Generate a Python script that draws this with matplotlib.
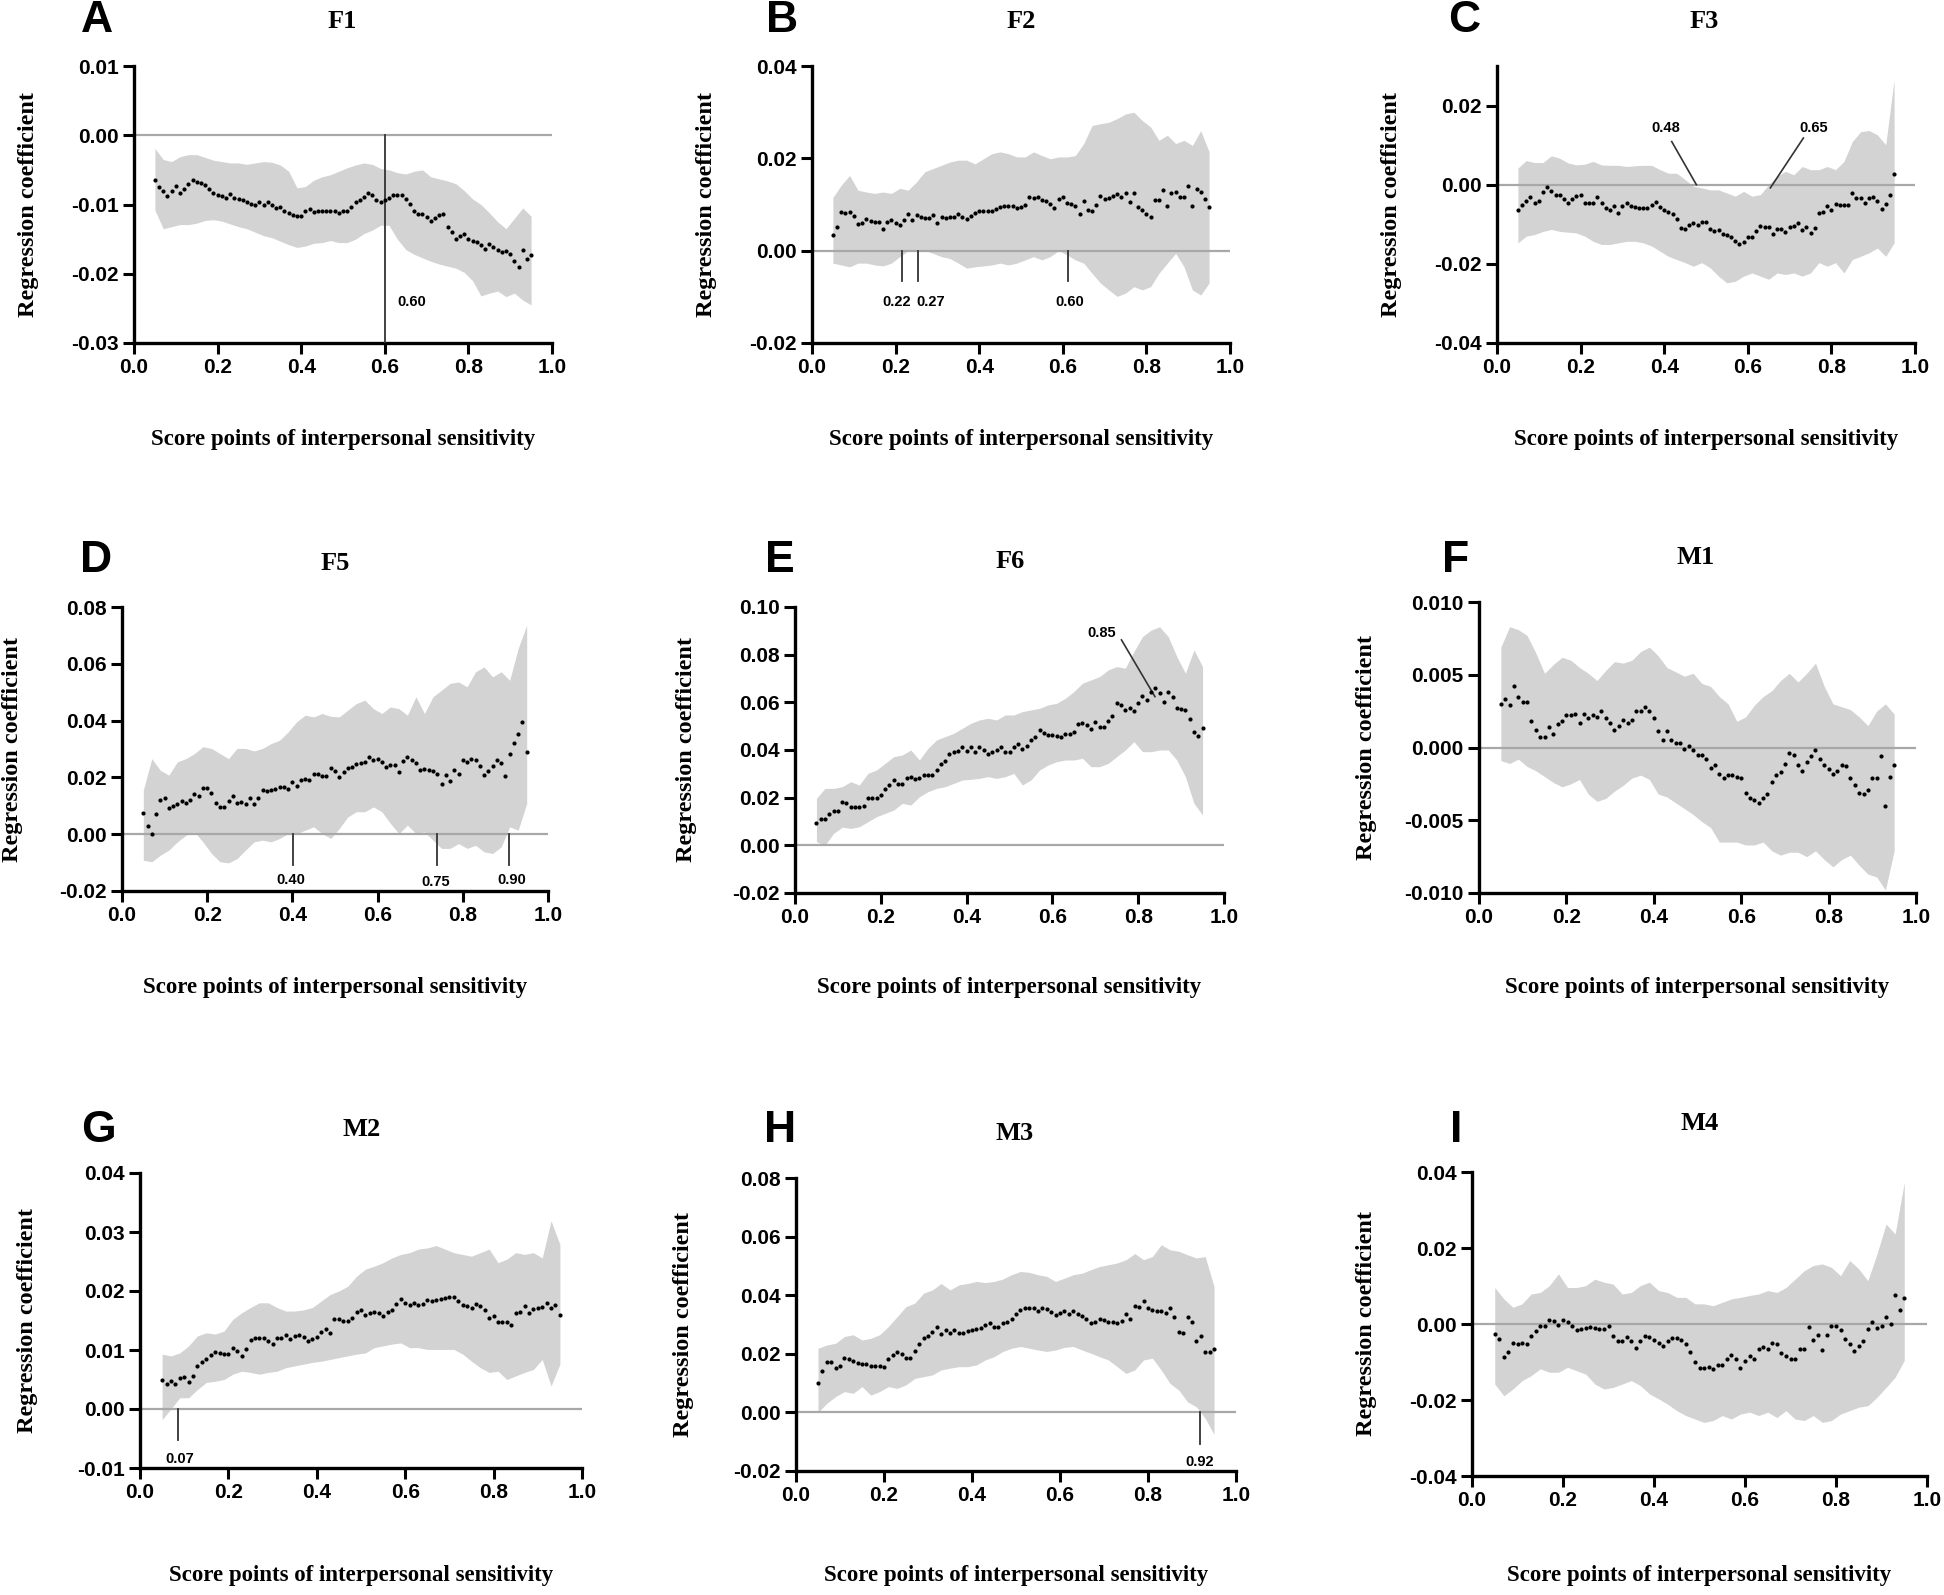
import numpy as np
import matplotlib
matplotlib.use("Agg")
import matplotlib.pyplot as plt
from matplotlib.ticker import FormatStrFormatter

plt.rcParams["axes.unicode_minus"] = False

# ---------------- data ----------------
score_points = np.round(np.arange(0.05, 0.951, 0.01), 2)      # 91 quantiles
band_points = np.round(np.arange(0.05, 0.951, 0.02), 2)       # 46 CI points

F1_coef = [-0.0065,-0.0075,-0.0081,-0.0088,-0.0080,-0.0074,-0.0084,-0.0078,-0.0070,-0.0065,
           -0.0067,-0.0069,-0.0072,-0.0078,-0.0083,-0.0087,-0.0088,-0.0090,-0.0085,-0.0091,
           -0.0092,-0.0094,-0.0096,-0.0099,-0.0101,-0.0097,-0.0100,-0.0096,-0.0100,-0.0105,
           -0.0104,-0.0109,-0.0112,-0.0115,-0.0117,-0.0116,-0.0109,-0.0107,-0.0111,-0.0110,
           -0.0109,-0.0109,-0.0110,-0.0110,-0.0112,-0.0109,-0.0109,-0.0104,-0.0097,-0.0094,
           -0.0089,-0.0084,-0.0087,-0.0094,-0.0097,-0.0093,-0.0090,-0.0087,-0.0086,-0.0087,
           -0.0092,-0.0099,-0.0110,-0.0114,-0.0113,-0.0118,-0.0124,-0.0120,-0.0115,-0.0113,
           -0.0132,-0.0139,-0.0150,-0.0146,-0.0142,-0.0150,-0.0152,-0.0154,-0.0158,-0.0164,
           -0.0157,-0.0162,-0.0166,-0.0169,-0.0167,-0.0171,-0.0182,-0.0190,-0.0166,-0.0178,
           -0.0173]
F1_upper = [-0.0019,-0.0035,-0.0038,-0.0031,-0.0028,-0.0028,-0.0032,-0.0036,-0.0038,-0.0040,
            -0.0040,-0.0042,-0.0040,-0.0038,-0.0039,-0.0043,-0.0052,-0.0076,-0.0074,-0.0065,
            -0.0060,-0.0057,-0.0052,-0.0047,-0.0043,-0.0040,-0.0042,-0.0048,-0.0050,-0.0054,
            -0.0056,-0.0052,-0.0050,-0.0060,-0.0063,-0.0066,-0.0070,-0.0080,-0.0092,-0.0100,
            -0.0112,-0.0125,-0.0135,-0.0120,-0.0105,-0.0117]
F1_lower = [-0.0108,-0.0135,-0.0132,-0.0129,-0.0129,-0.0127,-0.0123,-0.0122,-0.0124,-0.0128,
            -0.0132,-0.0135,-0.0140,-0.0145,-0.0148,-0.0153,-0.0158,-0.0162,-0.0160,-0.0156,
            -0.0155,-0.0152,-0.0155,-0.0155,-0.0150,-0.0142,-0.0137,-0.0130,-0.0130,-0.0150,
            -0.0165,-0.0172,-0.0177,-0.0182,-0.0186,-0.0189,-0.0192,-0.0198,-0.0210,-0.0232,
            -0.0228,-0.0225,-0.0233,-0.0228,-0.0238,-0.0245]

F2_coef = [0.0033,0.0052,0.0084,0.0081,0.0084,0.0076,0.0058,0.0060,0.0068,0.0065,
           0.0062,0.0063,0.0047,0.0063,0.0067,0.0061,0.0055,0.0067,0.0079,0.0067,
           0.0077,0.0074,0.0071,0.0071,0.0077,0.0059,0.0072,0.0070,0.0072,0.0074,
           0.0080,0.0074,0.0069,0.0075,0.0081,0.0085,0.0087,0.0087,0.0087,0.0090,
           0.0095,0.0096,0.0097,0.0096,0.0093,0.0095,0.0099,0.0116,0.0113,0.0117,
           0.0109,0.0108,0.0101,0.0092,0.0112,0.0117,0.0103,0.0102,0.0097,0.0080,
           0.0108,0.0088,0.0087,0.0100,0.0118,0.0112,0.0115,0.0119,0.0123,0.0117,
           0.0125,0.0105,0.0124,0.0095,0.0088,0.0080,0.0073,0.0109,0.0110,0.0132,
           0.0096,0.0124,0.0126,0.0116,0.0117,0.0139,0.0097,0.0133,0.0128,0.0112,
           0.0094]
F2_upper = [0.0115,0.0142,0.0163,0.0131,0.0127,0.0124,0.0127,0.0124,0.0135,0.0131,
            0.0149,0.0171,0.0178,0.0185,0.0192,0.0196,0.0196,0.0188,0.0199,0.0210,
            0.0214,0.0210,0.0203,0.0203,0.0214,0.0206,0.0199,0.0203,0.0203,0.0206,
            0.0232,0.0271,0.0275,0.0278,0.0286,0.0296,0.0300,0.0282,0.0268,0.0239,
            0.0250,0.0232,0.0239,0.0228,0.0260,0.0214]
F2_lower = [-0.0027,-0.0031,-0.0035,-0.0027,-0.0027,-0.0031,-0.0033,-0.0027,-0.0013,0.0000,
            0.0003,0.0001,-0.0006,-0.0013,-0.0017,-0.0027,-0.0038,-0.0035,-0.0033,-0.0031,
            -0.0027,-0.0031,-0.0027,-0.0020,-0.0013,-0.0020,-0.0013,0.0000,-0.0009,-0.0020,
            -0.0027,-0.0049,-0.0070,-0.0085,-0.0099,-0.0092,-0.0078,-0.0085,-0.0078,-0.0049,
            -0.0027,-0.0006,-0.0035,-0.0085,-0.0096,-0.0070]

F3_coef = [-0.0063,-0.0050,-0.0040,-0.0031,-0.0045,-0.0042,-0.0018,-0.0007,-0.0017,-0.0025,
           -0.0026,-0.0037,-0.0047,-0.0035,-0.0028,-0.0026,-0.0045,-0.0045,-0.0045,-0.0031,
           -0.0046,-0.0060,-0.0064,-0.0055,-0.0071,-0.0053,-0.0047,-0.0055,-0.0057,-0.0060,
           -0.0060,-0.0060,-0.0052,-0.0044,-0.0057,-0.0065,-0.0070,-0.0075,-0.0087,-0.0110,
           -0.0113,-0.0103,-0.0097,-0.0102,-0.0095,-0.0093,-0.0112,-0.0116,-0.0114,-0.0125,
           -0.0128,-0.0133,-0.0141,-0.0150,-0.0145,-0.0133,-0.0133,-0.0117,-0.0104,-0.0106,
           -0.0108,-0.0125,-0.0113,-0.0113,-0.0119,-0.0108,-0.0105,-0.0098,-0.0115,-0.0106,
           -0.0122,-0.0110,-0.0071,-0.0069,-0.0055,-0.0063,-0.0048,-0.0050,-0.0050,-0.0052,
           -0.0022,-0.0034,-0.0034,-0.0045,-0.0033,-0.0030,-0.0042,-0.0061,-0.0049,-0.0027,
           0.0027]
F3_upper = [0.0042,0.0061,0.0056,0.0056,0.0073,0.0067,0.0055,0.0050,0.0052,0.0059,
            0.0050,0.0049,0.0049,0.0046,0.0048,0.0049,0.0049,0.0038,0.0029,0.0029,
            0.0013,-0.0004,-0.0008,-0.0013,-0.0013,-0.0021,-0.0029,-0.0017,-0.0029,-0.0025,
            0.0000,0.0021,0.0034,0.0025,0.0046,0.0038,0.0038,0.0046,0.0038,0.0059,
            0.0109,0.0134,0.0137,0.0126,0.0101,0.0265]
F3_lower = [-0.0147,-0.0130,-0.0126,-0.0118,-0.0113,-0.0118,-0.0120,-0.0122,-0.0130,-0.0143,
            -0.0151,-0.0151,-0.0147,-0.0143,-0.0143,-0.0147,-0.0155,-0.0168,-0.0181,-0.0189,
            -0.0197,-0.0206,-0.0197,-0.0210,-0.0231,-0.0248,-0.0244,-0.0231,-0.0223,-0.0231,
            -0.0239,-0.0223,-0.0227,-0.0223,-0.0231,-0.0223,-0.0197,-0.0206,-0.0197,-0.0223,
            -0.0189,-0.0181,-0.0172,-0.0160,-0.0181,-0.0147]

F5_coef = [0.0073,0.0030,0.0002,0.0070,0.0122,0.0126,0.0094,0.0100,0.0108,0.0117,
           0.0110,0.0120,0.0140,0.0136,0.0162,0.0162,0.0146,0.0110,0.0095,0.0095,
           0.0118,0.0134,0.0111,0.0113,0.0108,0.0127,0.0105,0.0129,0.0157,0.0151,
           0.0155,0.0159,0.0165,0.0165,0.0159,0.0185,0.0170,0.0192,0.0194,0.0192,
           0.0213,0.0211,0.0204,0.0204,0.0232,0.0222,0.0203,0.0220,0.0234,0.0237,
           0.0247,0.0250,0.0254,0.0273,0.0260,0.0264,0.0254,0.0235,0.0242,0.0242,
           0.0218,0.0256,0.0271,0.0262,0.0250,0.0227,0.0228,0.0225,0.0224,0.0211,
           0.0177,0.0209,0.0186,0.0227,0.0211,0.0260,0.0253,0.0264,0.0262,0.0240,
           0.0208,0.0222,0.0240,0.0262,0.0251,0.0205,0.0282,0.0322,0.0354,0.0395,
           0.0289]
F5_upper = [0.0155,0.0266,0.0225,0.0208,0.0255,0.0266,0.0284,0.0308,0.0302,0.0284,
            0.0266,0.0302,0.0302,0.0293,0.0302,0.0319,0.0331,0.0360,0.0396,0.0419,
            0.0413,0.0425,0.0415,0.0413,0.0437,0.0460,0.0472,0.0442,0.0425,0.0448,
            0.0442,0.0419,0.0484,0.0425,0.0484,0.0507,0.0531,0.0536,0.0519,0.0572,
            0.0589,0.0554,0.0572,0.0542,0.0654,0.0736]
F5_lower = [-0.0092,-0.0097,-0.0074,-0.0056,-0.0027,-0.0004,0.0008,-0.0027,-0.0068,-0.0097,
            -0.0101,-0.0086,-0.0056,-0.0027,-0.0021,-0.0027,-0.0015,0.0002,0.0002,0.0014,
            0.0026,0.0002,-0.0015,0.0020,0.0061,0.0079,0.0079,0.0096,0.0079,0.0038,
            0.0002,0.0032,0.0002,0.0008,-0.0021,-0.0050,-0.0050,-0.0033,-0.0050,-0.0039,
            -0.0062,-0.0068,-0.0045,0.0026,0.0014,0.0108]

F6_coef = [0.0095,0.0110,0.0112,0.0130,0.0143,0.0143,0.0183,0.0178,0.0161,0.0161,
           0.0161,0.0164,0.0197,0.0199,0.0200,0.0213,0.0235,0.0255,0.0273,0.0257,
           0.0256,0.0281,0.0285,0.0280,0.0282,0.0294,0.0297,0.0297,0.0315,0.0340,
           0.0355,0.0383,0.0390,0.0395,0.0412,0.0397,0.0413,0.0392,0.0413,0.0400,
           0.0384,0.0390,0.0400,0.0413,0.0392,0.0390,0.0413,0.0424,0.0406,0.0417,
           0.0440,0.0455,0.0482,0.0472,0.0462,0.0462,0.0460,0.0455,0.0466,0.0466,
           0.0476,0.0510,0.0512,0.0504,0.0490,0.0518,0.0497,0.0497,0.0520,0.0544,
           0.0597,0.0590,0.0566,0.0577,0.0565,0.0597,0.0627,0.0610,0.0645,0.0661,
           0.0640,0.0600,0.0644,0.0622,0.0578,0.0572,0.0566,0.0532,0.0474,0.0460,
           0.0493]
F6_upper = [0.0197,0.0239,0.0239,0.0246,0.0267,0.0253,0.0302,0.0316,0.0344,0.0372,
            0.0379,0.0400,0.0358,0.0407,0.0442,0.0456,0.0470,0.0491,0.0512,0.0526,
            0.0533,0.0526,0.0547,0.0547,0.0561,0.0568,0.0575,0.0589,0.0596,0.0617,
            0.0645,0.0680,0.0694,0.0708,0.0736,0.0750,0.0743,0.0813,0.0876,0.0903,
            0.0917,0.0876,0.0792,0.0722,0.0820,0.0750]
F6_lower = [0.0015,0.0001,0.0050,0.0076,0.0071,0.0078,0.0099,0.0120,0.0134,0.0148,
            0.0176,0.0169,0.0204,0.0225,0.0239,0.0246,0.0260,0.0274,0.0277,0.0281,
            0.0288,0.0281,0.0288,0.0302,0.0253,0.0274,0.0316,0.0337,0.0351,0.0358,
            0.0358,0.0365,0.0330,0.0330,0.0344,0.0372,0.0400,0.0435,0.0393,0.0393,
            0.0400,0.0400,0.0358,0.0288,0.0176,0.0127]

M1_coef = [0.0030,0.0033,0.0029,0.0042,0.0035,0.0031,0.0031,0.0018,0.0012,0.0007,
           0.0007,0.0014,0.0009,0.0016,0.0018,0.0022,0.0022,0.0023,0.0017,0.0023,
           0.0020,0.0022,0.0021,0.0025,0.0020,0.0017,0.0012,0.0015,0.0019,0.0017,
           0.0019,0.0025,0.0025,0.0028,0.0025,0.0020,0.0011,0.0005,0.0011,0.0005,
           0.0003,0.0003,-0.0001,0.0001,-0.0002,-0.0005,-0.0005,-0.0008,-0.0014,-0.0012,
           -0.0018,-0.0021,-0.0019,-0.0019,-0.0020,-0.0021,-0.0031,-0.0035,-0.0036,-0.0038,
           -0.0035,-0.0032,-0.0024,-0.0019,-0.0017,-0.0011,-0.0004,-0.0005,-0.0012,-0.0016,
           -0.0010,-0.0006,-0.0002,-0.0008,-0.0012,-0.0015,-0.0018,-0.0016,-0.0012,-0.0013,
           -0.0021,-0.0026,-0.0031,-0.0032,-0.0029,-0.0021,-0.0021,-0.0006,-0.0040,-0.0020,
           -0.0012]
M1_upper = [0.0069,0.0083,0.0081,0.0077,0.0065,0.0051,0.0057,0.0062,0.0060,0.0055,
            0.0051,0.0046,0.0053,0.0059,0.0058,0.0060,0.0066,0.0069,0.0063,0.0055,
            0.0052,0.0049,0.0051,0.0044,0.0042,0.0035,0.0030,0.0018,0.0021,0.0029,
            0.0035,0.0039,0.0046,0.0051,0.0045,0.0051,0.0058,0.0042,0.0030,0.0028,
            0.0026,0.0021,0.0015,0.0025,0.0030,0.0023]
M1_lower = [-0.0009,-0.0011,-0.0008,-0.0013,-0.0016,-0.0020,-0.0024,-0.0027,-0.0025,-0.0022,
            -0.0032,-0.0037,-0.0035,-0.0030,-0.0026,-0.0021,-0.0019,-0.0022,-0.0032,-0.0034,
            -0.0038,-0.0042,-0.0046,-0.0051,-0.0055,-0.0065,-0.0065,-0.0065,-0.0067,-0.0067,
            -0.0065,-0.0071,-0.0074,-0.0072,-0.0072,-0.0075,-0.0071,-0.0077,-0.0082,-0.0077,
            -0.0074,-0.0081,-0.0087,-0.0089,-0.0098,-0.0071]

M2_coef = [0.0050,0.0043,0.0048,0.0043,0.0053,0.0055,0.0045,0.0056,0.0073,0.0080,
           0.0085,0.0092,0.0097,0.0095,0.0093,0.0093,0.0103,0.0098,0.0090,0.0102,
           0.0117,0.0120,0.0120,0.0120,0.0115,0.0110,0.0120,0.0121,0.0125,0.0118,
           0.0123,0.0125,0.0122,0.0115,0.0119,0.0122,0.0130,0.0135,0.0129,0.0152,
           0.0152,0.0150,0.0150,0.0155,0.0165,0.0168,0.0160,0.0163,0.0165,0.0162,
           0.0157,0.0165,0.0168,0.0178,0.0187,0.0180,0.0177,0.0180,0.0176,0.0178,
           0.0185,0.0183,0.0185,0.0187,0.0188,0.0190,0.0190,0.0183,0.0177,0.0175,
           0.0172,0.0178,0.0175,0.0168,0.0155,0.0157,0.0147,0.0148,0.0147,0.0143,
           0.0162,0.0165,0.0175,0.0163,0.0170,0.0172,0.0173,0.0180,0.0172,0.0177,
           0.0160]
M2_upper = [0.0093,0.0090,0.0095,0.0107,0.0124,0.0129,0.0127,0.0132,0.0152,0.0163,
            0.0172,0.0180,0.0180,0.0172,0.0166,0.0166,0.0168,0.0172,0.0183,0.0194,
            0.0200,0.0208,0.0225,0.0237,0.0242,0.0248,0.0256,0.0262,0.0265,0.0271,
            0.0273,0.0277,0.0271,0.0265,0.0262,0.0259,0.0265,0.0271,0.0248,0.0254,
            0.0265,0.0262,0.0265,0.0256,0.0319,0.0279]
M2_lower = [-0.0018,0.0000,0.0019,0.0019,0.0033,0.0045,0.0047,0.0050,0.0059,0.0064,
            0.0062,0.0059,0.0062,0.0064,0.0070,0.0073,0.0076,0.0079,0.0081,0.0084,
            0.0087,0.0090,0.0093,0.0095,0.0104,0.0107,0.0110,0.0112,0.0104,0.0104,
            0.0101,0.0101,0.0101,0.0101,0.0093,0.0081,0.0070,0.0062,0.0064,0.0050,
            0.0056,0.0062,0.0067,0.0084,0.0039,0.0076]

M3_coef = [0.0101,0.0142,0.0171,0.0173,0.0150,0.0160,0.0185,0.0183,0.0175,0.0168,
           0.0165,0.0165,0.0160,0.0157,0.0158,0.0156,0.0182,0.0197,0.0207,0.0198,
           0.0184,0.0185,0.0210,0.0232,0.0255,0.0260,0.0275,0.0290,0.0267,0.0280,
           0.0270,0.0280,0.0272,0.0272,0.0278,0.0282,0.0285,0.0288,0.0297,0.0305,
           0.0290,0.0290,0.0305,0.0310,0.0318,0.0337,0.0350,0.0358,0.0355,0.0358,
           0.0345,0.0358,0.0352,0.0342,0.0333,0.0340,0.0347,0.0337,0.0345,0.0335,
           0.0328,0.0320,0.0305,0.0308,0.0320,0.0315,0.0310,0.0308,0.0305,0.0313,
           0.0335,0.0318,0.0362,0.0360,0.0380,0.0355,0.0350,0.0345,0.0347,0.0338,
           0.0358,0.0325,0.0275,0.0270,0.0325,0.0310,0.0242,0.0262,0.0205,0.0207,
           0.0218]
M3_upper = [0.0219,0.0230,0.0236,0.0259,0.0265,0.0247,0.0253,0.0265,0.0293,0.0327,
            0.0361,0.0373,0.0407,0.0418,0.0440,0.0418,0.0435,0.0440,0.0447,0.0443,
            0.0447,0.0455,0.0470,0.0481,0.0478,0.0470,0.0464,0.0447,0.0458,0.0470,
            0.0475,0.0487,0.0498,0.0504,0.0510,0.0521,0.0542,0.0521,0.0532,0.0572,
            0.0555,0.0550,0.0538,0.0527,0.0532,0.0430]
M3_lower = [0.0000,0.0031,0.0054,0.0071,0.0065,0.0088,0.0059,0.0071,0.0088,0.0082,
            0.0094,0.0116,0.0122,0.0128,0.0145,0.0151,0.0156,0.0156,0.0162,0.0179,
            0.0190,0.0208,0.0219,0.0225,0.0219,0.0213,0.0208,0.0213,0.0222,0.0225,
            0.0213,0.0202,0.0190,0.0179,0.0156,0.0133,0.0145,0.0179,0.0185,0.0145,
            0.0099,0.0076,0.0036,0.0019,-0.0020,-0.0075]

M4_coef = [-0.0025,-0.0040,-0.0087,-0.0073,-0.0049,-0.0052,-0.0049,-0.0052,-0.0032,-0.0018,
           -0.0005,-0.0005,0.0011,0.0009,-0.0002,0.0011,0.0005,-0.0005,-0.0015,-0.0012,
           -0.0010,-0.0007,-0.0010,-0.0012,-0.0012,-0.0005,-0.0032,-0.0045,-0.0045,-0.0035,
           -0.0045,-0.0062,-0.0045,-0.0032,-0.0035,-0.0043,-0.0049,-0.0057,-0.0045,-0.0038,
           -0.0038,-0.0042,-0.0052,-0.0073,-0.0099,-0.0115,-0.0116,-0.0112,-0.0119,-0.0108,
           -0.0109,-0.0093,-0.0082,-0.0092,-0.0115,-0.0097,-0.0083,-0.0092,-0.0065,-0.0060,
           -0.0065,-0.0049,-0.0052,-0.0075,-0.0083,-0.0093,-0.0093,-0.0065,-0.0065,-0.0008,
           -0.0042,-0.0029,-0.0069,-0.0029,-0.0005,-0.0005,-0.0015,-0.0040,-0.0052,-0.0070,
           -0.0057,-0.0045,-0.0014,0.0006,-0.0010,-0.0005,0.0019,0.0001,0.0077,0.0037,
           0.0068]
M4_upper = [0.0096,0.0066,0.0044,0.0053,0.0079,0.0083,0.0101,0.0132,0.0096,0.0096,
            0.0101,0.0118,0.0110,0.0105,0.0079,0.0083,0.0101,0.0110,0.0088,0.0083,
            0.0070,0.0070,0.0053,0.0053,0.0048,0.0057,0.0066,0.0070,0.0075,0.0079,
            0.0088,0.0083,0.0096,0.0118,0.0140,0.0154,0.0158,0.0149,0.0127,0.0167,
            0.0145,0.0114,0.0184,0.0263,0.0237,0.0373]
M4_lower = [-0.0158,-0.0189,-0.0171,-0.0149,-0.0136,-0.0118,-0.0127,-0.0127,-0.0114,-0.0123,
            -0.0132,-0.0158,-0.0171,-0.0167,-0.0158,-0.0149,-0.0162,-0.0184,-0.0197,-0.0211,
            -0.0228,-0.0241,-0.0250,-0.0259,-0.0254,-0.0241,-0.0250,-0.0237,-0.0232,-0.0241,
            -0.0232,-0.0246,-0.0228,-0.0250,-0.0254,-0.0241,-0.0259,-0.0254,-0.0237,-0.0228,
            -0.0219,-0.0215,-0.0193,-0.0167,-0.0140,-0.0096]

panel_letters = ["A", "B", "C", "D", "E", "F", "G", "H", "I"]
panel_titles = ["F1", "F2", "F3", "F5", "F6", "M1", "M2", "M3", "M4"]
coefs = [F1_coef, F2_coef, F3_coef, F5_coef, F6_coef, M1_coef, M2_coef, M3_coef, M4_coef]
uppers = [F1_upper, F2_upper, F3_upper, F5_upper, F6_upper, M1_upper, M2_upper, M3_upper, M4_upper]
lowers = [F1_lower, F2_lower, F3_lower, F5_lower, F6_lower, M1_lower, M2_lower, M3_lower, M4_lower]
y_ticks = [
    [-0.03, -0.02, -0.01, 0.00, 0.01],
    [-0.02, 0.00, 0.02, 0.04],
    [-0.04, -0.02, 0.00, 0.02],
    [-0.02, 0.00, 0.02, 0.04, 0.06, 0.08],
    [-0.02, 0.00, 0.02, 0.04, 0.06, 0.08, 0.10],
    [-0.010, -0.005, 0.000, 0.005, 0.010],
    [-0.01, 0.00, 0.01, 0.02, 0.03, 0.04],
    [-0.02, 0.00, 0.02, 0.04, 0.06, 0.08],
    [-0.04, -0.02, 0.00, 0.02, 0.04],
]
y_limits = [(-0.03, 0.01), (-0.02, 0.04), (-0.04, 0.03), (-0.02, 0.08), (-0.02, 0.10),
            (-0.010, 0.010), (-0.01, 0.04), (-0.02, 0.08), (-0.04, 0.04)]
y_decimals = [2, 2, 2, 2, 2, 3, 2, 2, 2]
x_ticks = [0.0, 0.2, 0.4, 0.6, 0.8, 1.0]
x_label = "Score points of interpersonal sensitivity"
y_label = "Regression coefficient"

# annotation marks: 'v' = vertical drop line, 'd' = diagonal leader line
annotations = [
    [("v", 0.60, -0.03, "0.60", 0.664, -0.0241)],
    [("v", 0.216, -0.0065, "0.22", 0.203, -0.0112),
     ("v", 0.254, -0.0065, "0.27", 0.285, -0.0112),
     ("v", 0.612, -0.0065, "0.60", 0.617, -0.0112)],
    [("d", 0.477, 0.0, 0.418, 0.0109, "0.48", 0.403, 0.0143),
     ("d", 0.654, -0.0008, 0.733, 0.0118, "0.65", 0.757, 0.0143)],
    [("v", 0.402, -0.0109, "0.40", 0.397, -0.0162),
     ("v", 0.739, -0.0109, "0.75", 0.736, -0.0168),
     ("v", 0.909, -0.0109, "0.90", 0.916, -0.0162)],
    [("d", 0.839, 0.0624, 0.761, 0.0862, "0.85", 0.714, 0.0890)],
    [],
    [("v", 0.086, -0.0053, "0.07", 0.091, -0.0085)],
    [("v", 0.919, -0.0108, "0.92", 0.917, -0.0169)],
    [],
]

# ---------------- layout (pixels in 1944x1595) ----------------
W, H = 1944, 1595
axes_px = [  # left, top, right, bottom
    (134, 66, 552, 343), (812, 66, 1230, 343), (1497, 66, 1915, 343),
    (122, 607, 548, 891), (795, 607, 1224, 893), (1479, 602, 1916, 893),
    (140, 1173, 582, 1468), (796, 1178, 1236, 1471), (1472, 1172, 1927, 1476),
]
letter_px = [(97, 20), (782, 20), (1464, 20), (96, 561), (780, 560), (1456, 560),
             (98, 1131), (780, 1130), (1456, 1130)]
title_px = [(342, 22), (1021, 21), (1704, 22), (335, 563), (1010, 562), (1696, 557),
            (362, 1130), (1015, 1133), (1700, 1123)]
xlabel_y_px = [440, 440, 440, 988, 988, 988, 1575, 1575, 1575]
ylabel_off_px = [106, 106, 106, 110, 109, 113, 113, 113, 106]

SERIF = ["Liberation Serif", "DejaVu Serif"]
SANS = ["Liberation Sans", "DejaVu Sans"]
BAND = "#d3d3d3"

fig = plt.figure(figsize=(W / 100, H / 100), dpi=100)

for i in range(9):
    l, t, r, b = axes_px[i]
    ax = fig.add_axes([l / W, 1 - b / H, (r - l) / W, (b - t) / H])
    ax.fill_between(band_points, lowers[i], uppers[i], color=BAND, lw=0, zorder=1)
    ax.axhline(0, color="#a8a8a8", lw=1.6, zorder=2)
    ax.plot(score_points, coefs[i], "o", color="black", ms=3.0, mew=0, zorder=4)

    for a in annotations[i]:
        if a[0] == "v":
            _, xv, yb, lab, tx, ty = a
            ax.plot([xv, xv], [0, yb], color="#333333", lw=1.3, zorder=3)
        else:
            _, x0, y0, x1, y1, lab, tx, ty = a
            ax.plot([x0, x1], [y0, y1], color="#333333", lw=1.2, zorder=3)
        ax.text(tx, ty, lab, ha="center", va="center", fontsize=10.5,
                fontweight="bold", family=SANS, zorder=5)

    ax.set_xlim(0, 1.0)
    ax.set_ylim(*y_limits[i])
    ax.set_xticks(x_ticks)
    ax.set_yticks(y_ticks[i])
    ax.xaxis.set_major_formatter(FormatStrFormatter("%.1f"))
    ax.yaxis.set_major_formatter(FormatStrFormatter("%%.%df" % y_decimals[i]))
    for s in ("top", "right"):
        ax.spines[s].set_visible(False)
    for s in ("left", "bottom"):
        ax.spines[s].set_linewidth(2.4)
    ax.tick_params(axis="both", direction="out", length=8, width=2.2,
                   labelsize=15, pad=3)
    for lab in ax.get_xticklabels() + ax.get_yticklabels():
        lab.set_fontweight("bold")
        lab.set_family(SANS)

    ax.text(0.5, -(xlabel_y_px[i] - b) / (b - t), x_label, transform=ax.transAxes,
            ha="center", va="center", fontsize=16.5, fontweight="bold", family=SERIF)
    ax.text(-ylabel_off_px[i] / (r - l), 0.5, y_label, transform=ax.transAxes,
            rotation=90, ha="center", va="center", fontsize=17.5, fontweight="bold",
            family=SERIF)

    lx, ly = letter_px[i]
    fig.text(lx / W, 1 - ly / H, panel_letters[i], ha="center", va="center",
             fontsize=32, fontweight="bold", family=SANS)
    tx, ty = title_px[i]
    fig.text(tx / W, 1 - ty / H, panel_titles[i], ha="center", va="center",
             fontsize=19, fontweight="bold", family=SERIF)

fig.savefig("out.png", dpi=100, facecolor="white")
